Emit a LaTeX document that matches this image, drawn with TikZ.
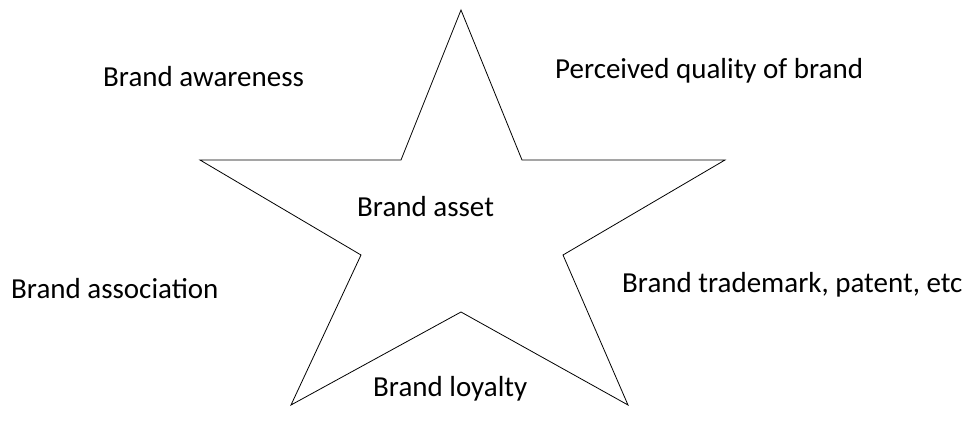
\documentclass[tikz,border=0pt]{standalone}
\usepackage{fontspec}
\setmainfont{Carlito}
\usetikzlibrary{positioning}

\begin{document}
\begin{tikzpicture}[x=1pt,y=-1pt,
  lbl/.style={anchor=base west,inner sep=0pt,font=\fontsize{29}{34}\selectfont}]
\useasboundingbox (0,0) rectangle (970,425);
% star outline
\draw[line width=0.8pt,line join=miter] (461,10) -- (522,160) -- (725,160) -- (563,255)
  -- (628,405) -- (461,312) -- (291,405) -- (361,255) -- (200,160) -- (401,160) -- cycle;
% labels
\node[lbl] (aware) at (103,87) {Brand awareness};
\node[lbl] (quality) at (555,79) {Perceived quality of brand};
\node[lbl] (asset) at (357,216) {Brand asset};
\node[lbl] (assoc) at (11,298) {Brand association};
\node[lbl] (trade) at (622,292) {Brand trademark, patent, etc};
\node[lbl] (loyal) at (373,396) {Brand loyalty};
\end{tikzpicture}
\end{document}
